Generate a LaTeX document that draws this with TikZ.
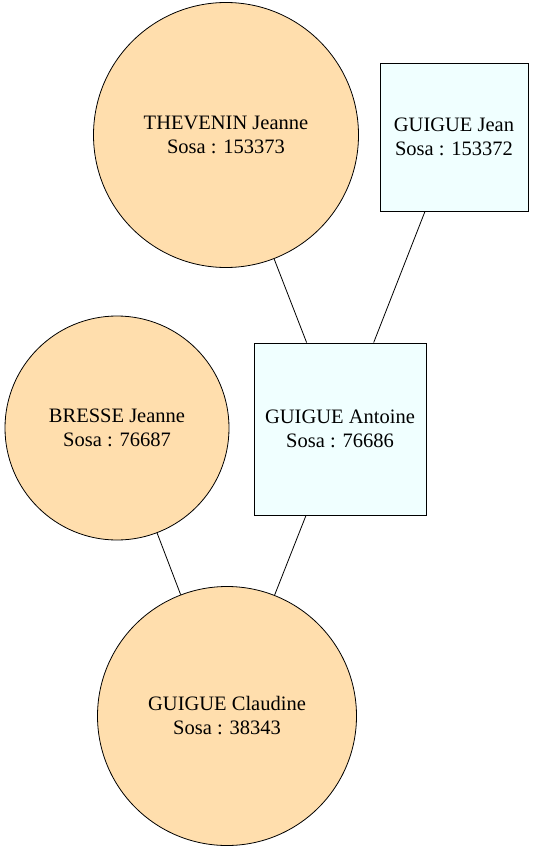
\documentclass[tikz,border=0pt]{standalone}
\usepackage{fontspec}
\setmainfont{Liberation Serif}
\definecolor{navajo}{HTML}{FFDEAD}
\definecolor{azurec}{HTML}{F0FFFF}
\begin{document}
\begin{tikzpicture}[x=1pt,y=-1pt,
  person/.style={draw=black,line width=0.8pt,align=center,inner sep=0pt,font=\fontsize{20.5}{24}\selectfont},
  female/.style={person,circle,fill=navajo},
  male/.style={person,rectangle,fill=azurec},
  link/.style={draw=black,line width=0.8pt}]
\useasboundingbox (0,0) rectangle (534,851);
\node[female,minimum size=265pt] (thevenin) at (226,135) {THEVENIN Jeanne\\Sosa : 153373};
\node[male,minimum width=148pt,minimum height=148pt] (jean) at (454,137) {GUIGUE Jean\\Sosa : 153372};
\node[female,minimum size=224pt] (bresse) at (117,428) {BRESSE Jeanne\\Sosa : 76687};
\node[male,minimum width=172pt,minimum height=172pt] (antoine) at (340,429) {GUIGUE Antoine\\Sosa : 76686};
\node[female,minimum size=259pt] (claudine) at (227,716) {GUIGUE Claudine\\Sosa : 38343};
\draw[link] (thevenin) -- (antoine);
\draw[link] (jean) -- (antoine);
\draw[link] (bresse) -- (claudine);
\draw[link] (antoine) -- (claudine);
\end{tikzpicture}
\end{document}
